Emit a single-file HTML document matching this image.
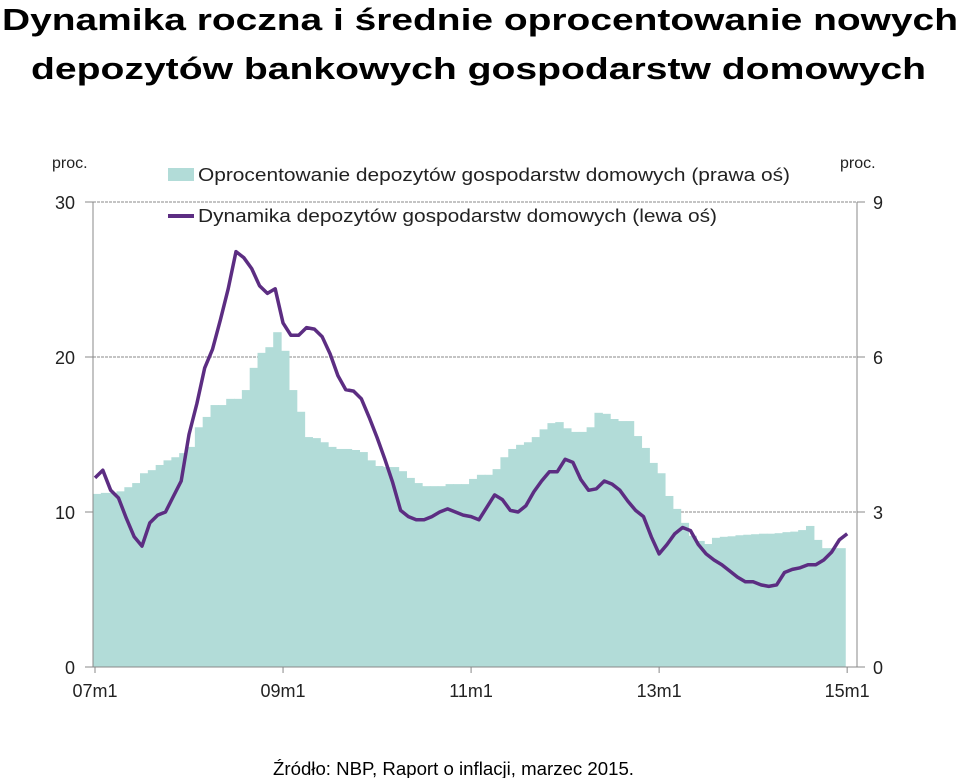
<!DOCTYPE html>
<html><head><meta charset="utf-8"><style>
html,body{margin:0;padding:0;background:#fff;width:960px;height:778px;overflow:hidden}
svg text{font-family:"Liberation Sans",Arial,sans-serif}
</style></head><body>
<svg id="chart" width="960" height="778" viewBox="0 0 960 778" xmlns="http://www.w3.org/2000/svg">
<text x="2" y="30" font-size="31" font-weight="bold" textLength="956" lengthAdjust="spacingAndGlyphs">Dynamika roczna i średnie oprocentowanie nowych</text>
<text x="31" y="79" font-size="31" font-weight="bold" textLength="895" lengthAdjust="spacingAndGlyphs">depozytów bankowych gospodarstw domowych</text>
<g id="grid"></g>
<g id="bars"></g>
<g id="axes"></g>
<g id="lineg"></g>
<text x="52" y="168" font-size="16" fill="#222">proc.</text>
<text x="840" y="168" font-size="16" fill="#222">proc.</text>
<g>
<rect x="168" y="168" width="26" height="13" fill="#b2dcd8"/>
<text x="198" y="181" font-size="18" fill="#222" textLength="592" lengthAdjust="spacingAndGlyphs">Oprocentowanie depozytów gospodarstw domowych (prawa oś)</text>
<line x1="168" y1="216" x2="194" y2="216" stroke="#5c2d82" stroke-width="4"/>
<text x="198" y="222" font-size="18" fill="#222" textLength="519" lengthAdjust="spacingAndGlyphs">Dynamika depozytów gospodarstw domowych (lewa oś)</text>
</g>
<text x="273" y="775" font-size="18" fill="#000" textLength="361" lengthAdjust="spacingAndGlyphs">Źródło: NBP, Raport o inflacji, marzec 2015.</text>
</svg>
<script>
const rateValues = [3.35,3.37,3.37,3.40,3.48,3.56,3.75,3.81,3.91,4.00,4.06,4.14,4.26,
4.64,4.84,5.07,5.07,5.19,5.19,5.36,5.79,6.08,6.19,6.48,6.12,
5.36,4.94,4.45,4.43,4.35,4.26,4.22,4.22,4.20,4.16,4.00,3.89,
3.87,3.87,3.79,3.66,3.56,3.50,3.50,3.50,3.54,3.54,3.54,3.64,
3.72,3.72,3.83,4.06,4.22,4.30,4.35,4.45,4.60,4.72,4.74,4.62,
4.55,4.55,4.64,4.92,4.90,4.80,4.76,4.76,4.47,4.24,3.95,3.75,
3.31,3.06,2.79,2.54,2.44,2.38,2.50,2.52,2.53,2.55,2.56,2.57,
2.58,2.58,2.59,2.61,2.62,2.65,2.73,2.46,2.30,2.30,2.30];
const growthValues = [12.2,12.7,11.4,10.9,9.6,8.4,7.8,9.3,9.8,10.0,11.0,12.0,
15.0,17.0,19.3,20.5,22.4,24.4,26.8,26.4,25.7,24.6,24.1,24.4,
22.2,21.4,21.4,21.9,21.8,21.3,20.2,18.8,17.9,17.8,17.3,16.1,
14.8,13.4,11.9,10.1,9.7,9.5,9.5,9.7,10.0,10.2,10.0,9.8,
9.7,9.5,10.3,11.1,10.8,10.1,10.0,10.4,11.3,12.0,12.6,12.6,
13.4,13.2,12.1,11.4,11.5,12.0,11.8,11.4,10.7,10.1,9.7,8.4,
7.3,7.9,8.6,9.0,8.8,7.9,7.3,6.9,6.6,6.2,5.8,5.5,
5.5,5.3,5.2,5.3,6.1,6.3,6.4,6.6,6.6,6.9,7.4,8.2,8.6];
const xTickLabels = ["07m1","09m1","11m1","13m1","15m1"];
const xTickMonths = [0,24,48,72,96];
const leftTicks = [0,10,20,30];
const rightTicks = [0,3,6,9];

const NS="http://www.w3.org/2000/svg";
const plotL=93, plotR=857, yTop=202, yBot=667, x0=95, monthW=7.835;
const xM = m => x0 + m*monthW;
const yL = v => yBot - (v/30)*(yBot-yTop);
const yR = v => yBot - (v/9)*(yBot-yTop);
function mk(tag, parent, attrs){const e=document.createElementNS(NS,tag);for(const k in attrs)e.setAttribute(k,attrs[k]);parent.appendChild(e);return e;}
const grid=document.getElementById('grid'), bars=document.getElementById('bars'), axes=document.getElementById('axes'), lg=document.getElementById('lineg');

leftTicks.forEach(t=>{
  if(t>0){
    const g=mk('line',grid,{x1:plotL,x2:plotR,y1:yL(t),y2:yL(t),stroke:'#8a8a8a','stroke-width':1,'stroke-dasharray':'3,1'});
    
    
  }
  const tk=mk('line',axes,{x1:plotL-8,x2:plotL,y1:yL(t),y2:yL(t),stroke:'#888'});
  
  
  const tx=mk('text',axes,{x:75,y:yL(t)+7,'font-size':18,'text-anchor':'end',fill:'#222'});
  tx.textContent=t;
  
  
});
rightTicks.forEach(t=>{
  const tk=mk('line',axes,{x1:plotR,x2:plotR+8,y1:yR(t),y2:yR(t),stroke:'#888'});
  
  
  const tx=mk('text',axes,{x:873,y:yR(t)+7,'font-size':18,fill:'#222'});
  tx.textContent=t;
  
  
});

rateValues.forEach((v,i)=>{
  const x1=plotL+i*monthW, x2=plotL+(i+1)*monthW;
  const r=mk('rect',bars,{x:x1,y:yR(v),width:x2-x1+0.6,height:yBot-yR(v),fill:'#b2dcd8'});
  
  
});

const la=mk('line',axes,{x1:plotL,x2:plotL,y1:yTop,y2:yBot,stroke:'#888'});


const ra=mk('line',axes,{x1:plotR,x2:plotR,y1:yTop,y2:yBot,stroke:'#888'});


const ba=mk('line',axes,{x1:plotL,x2:plotR,y1:yBot,y2:yBot,stroke:'#888'});


xTickMonths.forEach((m,i)=>{
  const tk=mk('line',axes,{x1:xM(m),x2:xM(m),y1:yBot,y2:yBot+6,stroke:'#888'});
  
  
  const tx=mk('text',axes,{x:xM(m),y:697,'font-size':18,'text-anchor':'middle',fill:'#222'});
  tx.textContent=xTickLabels[i];
  
  
});

const pts=growthValues.map((v,i)=>xM(i).toFixed(1)+','+yL(v).toFixed(1)).join(' ');
const pl=mk('polyline',lg,{points:pts,fill:'none',stroke:'#5c2d82','stroke-width':3.5,'stroke-linejoin':'round'});


</script>
</body></html>
